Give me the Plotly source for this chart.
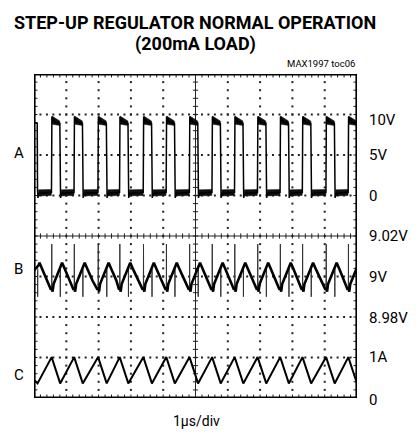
import plotly.graph_objects as go

# ---------------- data ----------------
# switching events (µs): rising / falling edges of trace A
A_RISE_US = [0.546, 1.244, 1.985, 2.654, 3.386, 4.096, 4.815, 5.515, 6.213, 6.923, 7.623, 8.312, 9.043, 9.731]
A_FALL_US = [0.11, 0.81, 1.51, 2.25, 2.92, 3.65, 4.36, 5.08, 5.78, 6.48, 7.19, 7.89, 8.58, 9.31, 10.0]

# trace A (V): shape around each rising edge and each falling edge
A_START_V = 9.0
A_RISE_DT = [-0.03, -0.005, 0.008, 0.03, 0.05, 0.09]
A_RISE_V = [0.4, 0.3, 9.75, 9.2, 9.5, 9.1]
A_FALL_DT = [-0.01, 0.0, 0.012, 0.04]
A_FALL_V = [8.9, 0.6, -0.3, 0.25]
A_HIGH_BAND_V = [9.8, 9.2, 8.65, 8.8]   # fuzzy top of the pulse
A_LOW_BAND_V = [0.7, 0.75, 0.0, -0.05]  # fuzzy low level

# trace B (V): output ripple
B_START_V = 9.003
B_RISE_DT = [-0.02, 0.01, 0.03, 0.06, 0.12, 0.2]
B_RISE_V = [8.9935, 8.9945, 8.9925, 8.9963, 8.9987, 9.0018]
B_FALL_DT = [-0.01, 0.03, 0.06, 0.15, 0.3]
B_FALL_V = [9.0045, 9.0055, 9.0068, 9.0035, 8.998]
B_SPIKE_UP_V = 9.016
B_SPIKE_DOWN_V = 8.990

# trace C (A): inductor current
C_START_A = 0.45
C_PEAK_A = 1.01
C_VALLEY_A = 0.36

RIGHT_LABELS = ["10V", "5V", "0", "9.02V", "9V", "8.98V", "1A", "0"]
RIGHT_LABEL_PY = [120, 155, 195.5, 236, 277, 318, 357, 400]
LEFT_LABELS = ["A", "B", "C"]
LEFT_LABEL_PY = [152.7, 269, 375]

# ---------------- scales (page pixels; the page body has an 8px margin) ----------------
OFF = 8
PL, PR, PT, PB = 34, 357, 74, 398        # frame in page pixels
W, H = 417 - 2 * OFF, 432 - OFF          # figure size
XDIV, YDIV = 10, 8


def px_x(px):
    return (px - PL) / (PR - PL)


def px_y(py):
    return (PB - py) / (PB - PT)


def a_div(v):
    return 5 + v / 5.0


def b_div(v):
    return 3 + (v - 9.0) / 0.02


def c_div(i):
    return i / 1.0


# ---------------- build traces ----------------
ax, ay = [0.0], [a_div(A_START_V)]
for t, v in zip(A_FALL_DT, A_FALL_V):
    ax.append(A_FALL_US[0] + t); ay.append(a_div(v))
for i, r in enumerate(A_RISE_US):
    for t, v in zip(A_RISE_DT, A_RISE_V):
        ax.append(r + t); ay.append(a_div(v))
    f = A_FALL_US[i + 1]
    for t, v in zip(A_FALL_DT, A_FALL_V):
        ax.append(f + t); ay.append(a_div(v))

# fuzz bands of A
bx, by = [], []
for i, r in enumerate(A_RISE_US):
    f = A_FALL_US[i + 1]
    xs = [r + 0.012, f - 0.012, f - 0.012, r + 0.012, r + 0.012]
    vs = A_HIGH_BAND_V + [A_HIGH_BAND_V[0]]
    bx += xs + [None]; by += [a_div(v) for v in vs] + [None]
for i, f in enumerate(A_FALL_US[:-1]):
    nr = A_RISE_US[i]
    xs = [f + 0.03, nr - 0.01, nr - 0.01, f + 0.03, f + 0.03]
    vs = A_LOW_BAND_V + [A_LOW_BAND_V[0]]
    bx += xs + [None]; by += [a_div(v) for v in vs] + [None]

# B
bxs, bys = [0.0], [b_div(B_START_V)]
for t, v in zip(B_FALL_DT, B_FALL_V):
    bxs.append(A_FALL_US[0] + t); bys.append(b_div(v))
for i, r in enumerate(A_RISE_US):
    for t, v in zip(B_RISE_DT, B_RISE_V):
        bxs.append(r + t); bys.append(b_div(v))
    f = A_FALL_US[i + 1]
    for t, v in zip(B_FALL_DT, B_FALL_V):
        bxs.append(f + t); bys.append(b_div(v))
sx, sy = [], []
for r in A_RISE_US:
    sx += [r, r + 0.004, r + 0.008, None]
    sy += [b_div(8.9945), b_div(B_SPIKE_UP_V), b_div(8.994), None]
for f in A_FALL_US[:-1]:
    sx += [f, f + 0.004, f + 0.008, None]
    sy += [b_div(9.003), b_div(B_SPIKE_DOWN_V), b_div(9.004), None]

# C
cx, cy = [0.0, A_FALL_US[0]], [c_div(C_START_A), c_div(C_VALLEY_A)]
for i, r in enumerate(A_RISE_US):
    cx += [r, A_FALL_US[i + 1]]
    cy += [c_div(C_PEAK_A), c_div(C_VALLEY_A)]

# ---------------- graticule (style only) ----------------
gx, gy = [], []
for k in [1, 2, 3, 4, 6, 7, 8, 9]:
    for j in range(1, 40):
        gx.append(k); gy.append(j * 0.2)
for k in [1, 2, 3, 5, 6, 7]:
    for j in range(1, 50):
        gx.append(j * 0.2); gy.append(k)

tx, ty = [], []
vt = 2.6 / (PB - PT) * YDIV
ht = 2.6 / (PR - PL) * XDIV
bt_v = 3.5 / (PB - PT) * YDIV
bt_h = 3.5 / (PR - PL) * XDIV
for j in range(1, 50):
    x = j * 0.2
    tx += [x, x, None]; ty += [4 - vt, 4 + vt, None]
    tx += [x, x, None]; ty += [8, 8 - bt_v, None]
    tx += [x, x, None]; ty += [0, bt_v, None]
for j in range(1, 40):
    y = j * 0.2
    tx += [5 - ht, 5 + ht, None]; ty += [y, y, None]
    tx += [0, bt_h, None]; ty += [y, y, None]
    tx += [10, 10 - bt_h, None]; ty += [y, y, None]

fig = go.Figure()
fig.add_trace(go.Scatter(x=gx, y=gy, mode="markers",
                         marker=dict(symbol="square", size=2, color="#222"),
                         hoverinfo="skip"))
fig.add_trace(go.Scatter(x=tx, y=ty, mode="lines", line=dict(color="#222", width=1),
                         hoverinfo="skip"))
fig.add_trace(go.Scatter(x=[0, 10, None, 5, 5], y=[4, 4, None, 0, 8], mode="lines",
                         line=dict(color="#222", width=1), hoverinfo="skip"))
fig.add_trace(go.Scatter(x=bx, y=by, mode="lines", fill="toself", fillcolor="#111",
                         line=dict(color="#111", width=0.5), hoverinfo="skip"))
fig.add_trace(go.Scatter(x=ax, y=ay, mode="lines", line=dict(color="#000", width=1.5)))
fig.add_trace(go.Scatter(x=sx, y=sy, mode="lines", line=dict(color="#333", width=1)))
fig.add_trace(go.Scatter(x=bxs, y=bys, mode="lines", line=dict(color="#000", width=2.6)))
fig.add_trace(go.Scatter(x=cx, y=cy, mode="lines", line=dict(color="#000", width=2)))

fig.add_shape(type="rect", xref="x", yref="y", x0=0, x1=10, y0=0, y1=8,
              line=dict(color="#000", width=3.2), layer="above")

FONT = "Roboto, Liberation Sans, sans-serif"
ann = []
ann.append(dict(x=px_x(195), y=px_y(22.5), text="STEP-UP REGULATOR NORMAL OPERATION",
                font=dict(family=FONT, size=18, color="#000", weight="bold")))
ann.append(dict(x=px_x(195), y=px_y(44.5), text="(200mA LOAD)",
                font=dict(family=FONT, size=18, color="#000", weight="bold")))
ann.append(dict(x=px_x(357), y=px_y(63), text="MAX1997 toc06", xanchor="right",
                font=dict(family=FONT, size=9.5, color="#000")))
for t, py in zip(RIGHT_LABELS, RIGHT_LABEL_PY):
    ann.append(dict(x=px_x(367), y=px_y(py), text=t, xanchor="left",
                    font=dict(family=FONT, size=15, color="#000")))
for t, py in zip(LEFT_LABELS, LEFT_LABEL_PY):
    ann.append(dict(x=px_x(18.5), y=px_y(py), text=t,
                    font=dict(family=FONT, size=15, color="#000")))
ann.append(dict(x=px_x(196.5), y=px_y(421), text="1µs/div",
                font=dict(family=FONT, size=14, color="#000")))
for a in ann:
    a.setdefault("xanchor", "center")
    a.update(xref="paper", yref="paper", yanchor="middle", showarrow=False)

fig.update_layout(
    width=W, height=H, autosize=False,
    margin=dict(l=PL - OFF, r=W - (PR - OFF), t=PT - OFF, b=H - (PB - OFF), pad=0),
    paper_bgcolor="white", plot_bgcolor="white",
    showlegend=False,
    xaxis=dict(range=[0, XDIV], visible=False, fixedrange=True),
    yaxis=dict(range=[0, YDIV], visible=False, fixedrange=True),
    annotations=ann,
)
fig.write_html("out.html", post_script="document.body.style.overflow='hidden';")
